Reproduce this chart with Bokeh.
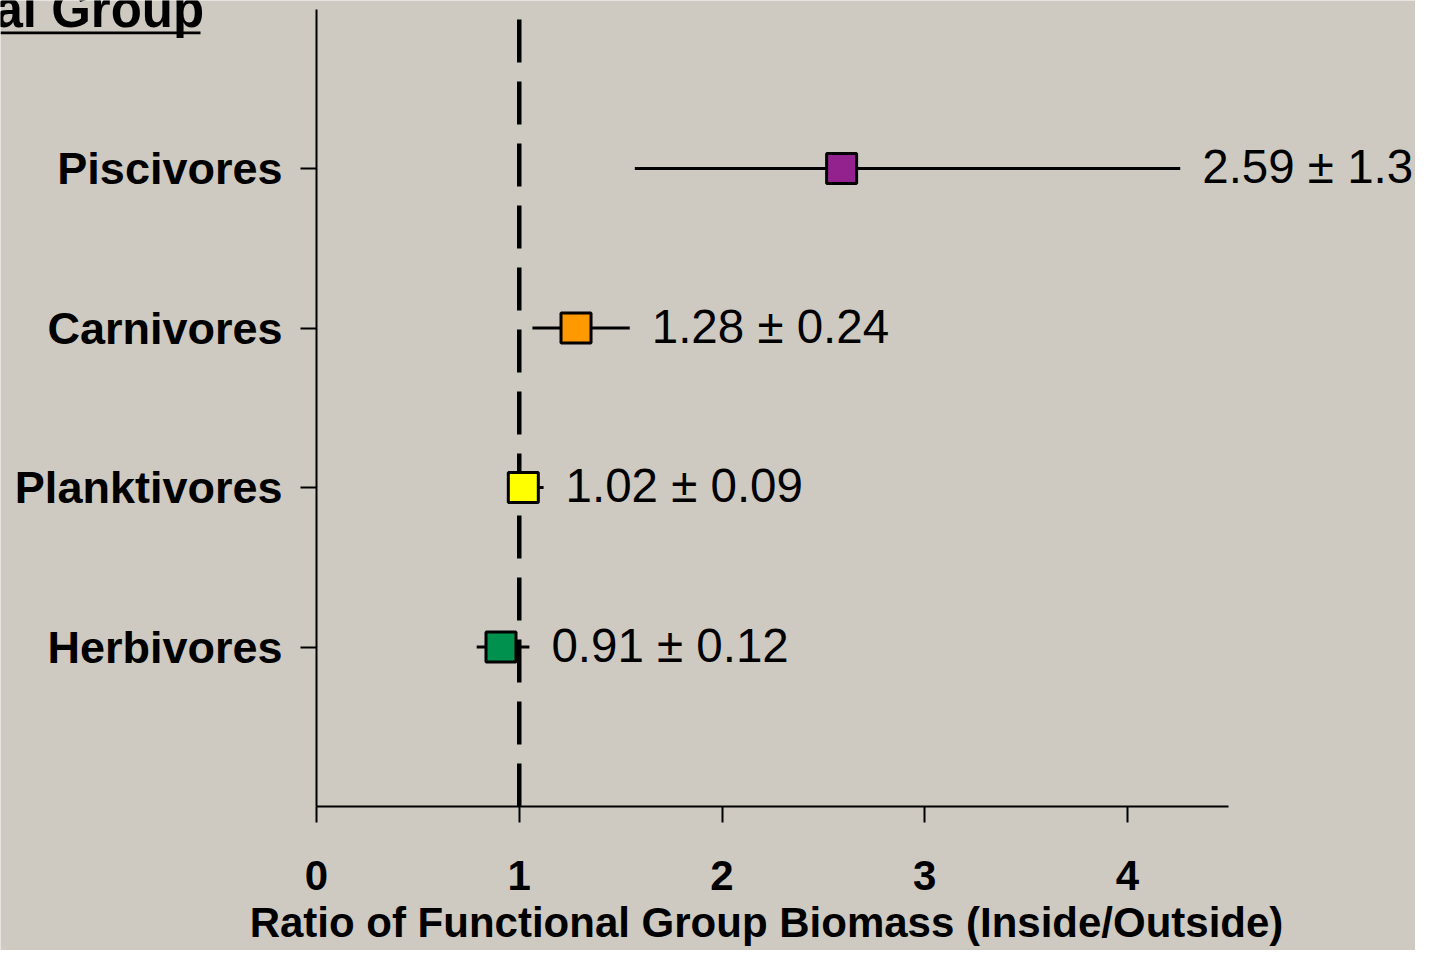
from bokeh.plotting import figure
from bokeh.models import Range1d, FixedTicker
from bokeh.core.properties import value
from bokeh.embed import file_html
from bokeh.resources import INLINE

# ---- data ----
groups = ["Herbivores", "Planktivores", "Carnivores", "Piscivores"]
means = [0.91, 1.02, 1.28, 2.59]
lower = [0.79, 0.94, 1.065, 1.57]
upper = [1.05, 1.12, 1.545, 4.26]
labels = ["0.91 ± 0.12", "1.02 ± 0.09", "1.28 ± 0.24", "2.59 ± 1.3"]
colors = ["#00914F", "#FFFF00", "#FF9900", "#93228F"]
x_ticks = [0, 1, 2, 3, 4]
x_max = 4.5
ref_ratio = 1.0
title_text = "al Group"
x_label = "Ratio of Functional Group Biomass (Inside/Outside)"

FONT = "Liberation Sans"
BG = "#CECAC2"

pos = list(range(1, len(groups) + 1))
y_max = len(groups) + 1

# ---- layout (pixels) ----
W, H = 1415, 950
X0_PX, X_UNIT = 316.0, 202.75   # pixel of x=0, pixels per x unit
Y0_PX, Y_UNIT = 806.0, 159.5    # pixel of y=0, pixels per y unit


def dx(px):
    return (px - X0_PX) / X_UNIT


def dy(px):
    return (Y0_PX - px) / Y_UNIT


p = figure(width=W, height=H, output_backend="svg", toolbar_location=None,
           x_range=Range1d(dx(0), dx(W)), y_range=Range1d(dy(H), dy(0)),
           min_border_left=0, min_border_right=0, min_border_top=0,
           min_border_bottom=0)
p.background_fill_color = BG
p.border_fill_color = BG
p.outline_line_color = None
p.xgrid.visible = False
p.ygrid.visible = False

# reference line at ratio 1
p.line(x=[ref_ratio, ref_ratio], y=[0, y_max], line_color="black",
       line_width=4.5, line_dash="43 19")

# error bars
p.segment(x0=lower, y0=pos, x1=upper, y1=pos, line_color="black", line_width=3)

# markers
p.scatter(x=means, y=pos, marker="square", size=30, fill_color=colors,
          line_color="black", line_width=3)

# value labels
p.text(x=upper, y=pos, text=labels, x_offset=22, y_offset=-2,
       text_baseline="middle", text_align="left", text_color="black",
       text_font=value(FONT), text_font_size="47.5px")

# x axis
xa = p.xaxis[0]
xa.fixed_location = 0
xa.bounds = (0, x_max)
xa.ticker = FixedTicker(ticks=x_ticks)
xa.axis_line_width = 2
xa.axis_line_color = "black"
xa.major_tick_line_width = 2
xa.major_tick_line_color = "black"
xa.major_tick_out = 16
xa.major_tick_in = 0
xa.minor_tick_line_color = None
xa.major_label_text_font = FONT
xa.major_label_text_font_style = "bold"
xa.major_label_text_font_size = "42px"
xa.major_label_text_color = "black"
xa.major_label_standoff = 38

# x axis title (centred under the axis line)
p.text(x=[dx(766)], y=[0], y_offset=116, text=[x_label], text_align="center",
       text_baseline="middle", text_color="black", text_font=value(FONT),
       text_font_style="bold", text_font_size="42px")

# y axis
ya = p.yaxis[0]
ya.fixed_location = 0
ya.bounds = (0, y_max)
ya.ticker = FixedTicker(ticks=pos)
ya.major_label_overrides = {k: g for k, g in zip(pos, groups)}
ya.axis_line_width = 2
ya.axis_line_color = "black"
ya.major_tick_line_width = 2
ya.major_tick_line_color = "black"
ya.major_tick_out = 16
ya.major_tick_in = 0
ya.minor_tick_line_color = None
ya.major_label_text_font = FONT
ya.major_label_text_font_style = "bold"
ya.major_label_text_font_size = "45px"
ya.major_label_text_color = "black"
ya.major_label_standoff = 18

# partial (cut-off) title, underlined
p.text(x=[dx(-6)], y=[dy(9)], text=[title_text], text_align="left",
       text_baseline="middle", text_color="black", text_font=value(FONT),
       text_font_style="bold", text_font_size="51px")
p.segment(x0=[dx(0)], y0=[dy(32.3)], x1=[dx(200)], y1=[dy(32.3)],
          line_color="black", line_width=2.7)

open("out.html", "w").write(file_html(p, INLINE))
